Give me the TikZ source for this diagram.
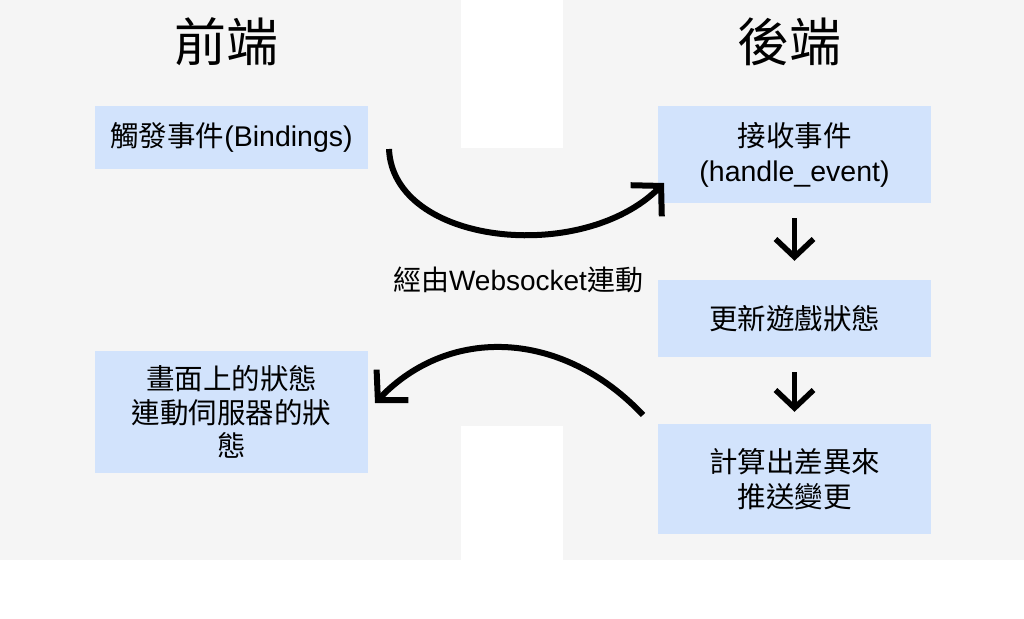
\documentclass[tikz,border=0pt]{standalone}
\usepackage{fontspec}
\setmainfont{Noto Sans CJK TC}
\newfontfamily\lat{Liberation Sans}
\usetikzlibrary{arrows.meta}
\definecolor{panelgray}{HTML}{F5F5F5}
\definecolor{boxblue}{HTML}{D2E3FC}
\begin{document}
\begin{tikzpicture}[x=1pt,y=-1pt,
  box/.style={fill=boxblue, minimum width=273pt, inner sep=0pt, align=center,
    font=\fontsize{28.5}{35}\selectfont, text=black},
  titletext/.style={font=\fontsize{52}{60}\selectfont, text=black},
  labeltext/.style={font=\fontsize{28}{32}\selectfont, text=black},
  flow/.style={line width=6pt, -{Straight Barb[length=21pt,width=44pt]}},
  downflow/.style={line width=5.5pt, -{Straight Barb[length=18pt,width=38pt]}}
]
\useasboundingbox (0,0) rectangle (1024,618);
\fill[white] (0,0) rectangle (1024,618);
% background panels
\fill[panelgray] (0,0) rectangle (1024,560);
\fill[white] (461,0) rectangle (563,148);
\fill[white] (461,426) rectangle (563,560);
% titles
\node[titletext] (tfront) at (226,42) {前端};
\node[titletext] (tback) at (789,42) {後端};
% boxes
\node[box, minimum height=63pt] (bind) at (231.5,137.5) {觸發事件{\lat(Bindings)}};
\node[box, minimum height=97pt] (recv) at (794.5,154.5) {接收事件\\{\lat(handle\_event)}};
\node[box, minimum height=77pt] (upd) at (794.5,318.5) {更新遊戲狀態};
\node[box, minimum height=110pt] (calc) at (794.5,479) {計算出差異來\\推送變更};
\node[box, minimum height=122pt, font=\fontsize{28.5}{33.5}\selectfont] (view) at (231.5,412) {畫面上的狀態\\連動伺服器的狀\\態};
% label
\node[labeltext] (ws) at (518,280) {經由{\lat Websocket}連動};
% curved connectors
\coordinate (c1s) at (389,149);
\coordinate (c1e) at (664,183);
\coordinate (c2s) at (643,415);
\coordinate (c2e) at (375,403);
\draw[flow] (c1s) .. controls (393,245) and (582,265) .. (c1e);
\draw[flow] (c2s) .. controls (563,330) and (450,325) .. (c2e);
% down arrows
\draw[downflow, shorten <=15pt, shorten >=19pt] (recv.south) -- (upd.north);
\draw[downflow, shorten <=15pt, shorten >=12pt] (upd.south) -- (calc.north);
\end{tikzpicture}
\end{document}
